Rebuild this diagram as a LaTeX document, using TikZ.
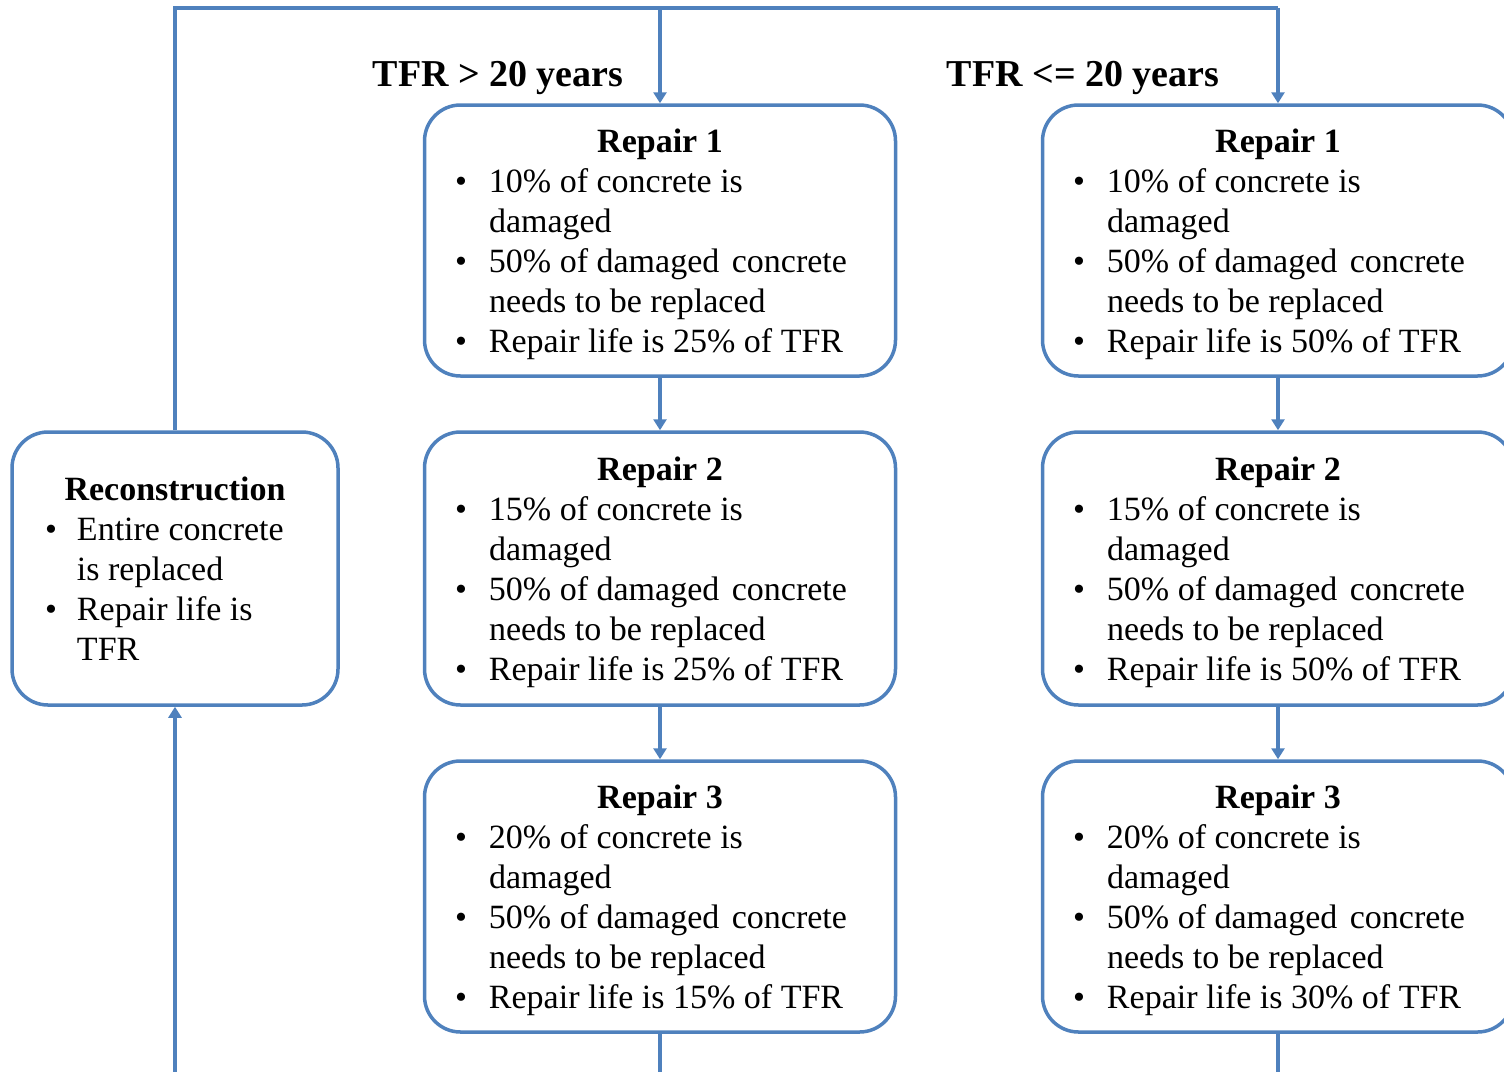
\documentclass[tikz,border=0pt]{standalone}
\usepackage{fontspec}
\setmainfont{Liberation Serif}
\usetikzlibrary{arrows.meta}
\definecolor{flowblue}{RGB}{79,129,189}
\newcommand{\bul}{\textbullet}
\newcommand{\repairtext}[3]{%
  \raisebox{-4pt}[\height][\depth]{\begin{tabular}{@{}p{34pt}@{}p{376pt}@{}}
  \multicolumn{2}{@{}c@{}}{\textbf{#1}}\\
  \bul & #2\% of concrete is\\
       & damaged\\
  \bul & 50\% of damaged\hspace{4pt} concrete\\
       & needs\ to be replaced\\
  \bul & Repair\ life is #3\% of TFR
  \end{tabular}}}
\begin{document}
\begin{tikzpicture}[x=1pt,y=-1pt,
  box/.style={draw=flowblue, line width=3.5pt, rounded corners=36pt,
    minimum width=471pt, minimum height=271pt, inner sep=0pt,
    font=\fontsize{34}{40}\selectfont, text=black},
  conn/.style={draw=flowblue, line width=3.2pt},
  arr/.style={conn, -{Triangle[length=11pt,width=13pt]}},
  lbl/.style={font=\fontsize{38}{44}\selectfont\bfseries, text=black, inner sep=0pt}]
\useasboundingbox (0,0) rectangle (1504,1071);
% boxes
\node[box, minimum width=326pt, minimum height=273pt] (rec) at (175,568.5) {%
  \raisebox{-4pt}[\height][\depth]{\begin{tabular}{@{}p{32pt}@{}p{228pt}@{}}
  \multicolumn{2}{@{}c@{}}{\textbf{Reconstruction}}\\
  \bul & Entire concrete\\
       & is replaced\\
  \bul & Repair life is\\
       & TFR
  \end{tabular}}};
\node[box] (l1) at (660,240.5) {\repairtext{Repair 1}{10}{25}};
\node[box, minimum height=273pt] (l2) at (660,568.5) {\repairtext{Repair 2}{15}{25}};
\node[box] (l3) at (660,896.5) {\repairtext{Repair 3}{20}{15}};
\node[box] (r1) at (1278,240.5) {\repairtext{Repair 1}{10}{50}};
\node[box, minimum height=273pt] (r2) at (1278,568.5) {\repairtext{Repair 2}{15}{50}};
\node[box] (r3) at (1278,896.5) {\repairtext{Repair 3}{20}{30}};
% labels
\node[lbl] (lab1) at (498,78) {TFR > 20 years};
\node[lbl] (lab2) at (1083,78) {TFR <= 20 years};
% coordinates
\coordinate (tl) at (175,8);
\coordinate (tm) at (660,8);
\coordinate (tr) at (1278,8);
\coordinate (bl) at (175,1080);
\coordinate (bm) at (660,1080);
\coordinate (br) at (1278,1080);
% connectors
\draw[conn] (rec.north) -- (tl) -- (tr);
\draw[arr] (tr) -- (r1.north);
\draw[arr] (tm) -- (l1.north);
\draw[arr] (l1.south) -- (l2.north);
\draw[arr] (l2.south) -- (l3.north);
\draw[arr] (r1.south) -- (r2.north);
\draw[arr] (r2.south) -- (r3.north);
\draw[conn] (l3.south) -- (bm);
\draw[conn] (r3.south) -- (br);
\draw[arr] (bl) -- (rec.south);
\end{tikzpicture}
\end{document}
